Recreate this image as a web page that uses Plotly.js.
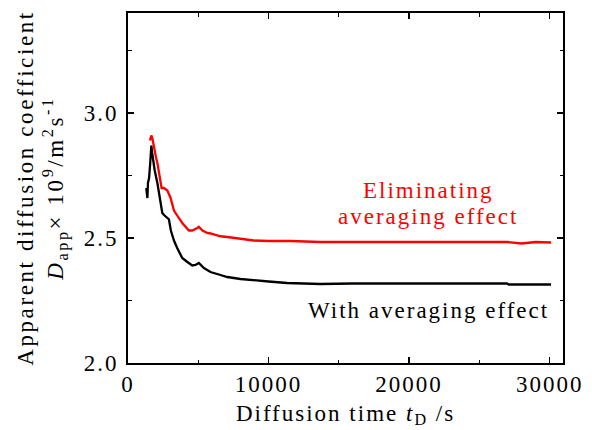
<!DOCTYPE html>
<html>
<head>
<meta charset="utf-8">
<script src="https://cdn.plot.ly/plotly-3.0.1.min.js"></script>
<style>
html,body{margin:0;padding:0;background:#fff}
#chart{width:592px;height:430px}
#chart svg text{letter-spacing:2px}
#chart svg .g-ytitle text{letter-spacing:2.6px}
</style>
</head>
<body>
<div id="chart"></div>
<script>
// Black: with averaging effect
const timeWith = [1300, 1380, 1420, 1500, 1580, 1660, 1720, 1800, 1900, 2090, 2250, 2440, 2600, 2800, 2910, 3050, 3270, 3500, 3860, 4200, 4570, 4800, 5040, 5400, 5870, 6580, 7060, 8000, 8950, 10000, 11320, 12500, 13690, 16000, 20000, 24000, 26950, 27100, 30100];
const dWith    = [2.70, 2.66, 2.72, 2.74, 2.80, 2.87, 2.84, 2.80, 2.77, 2.72, 2.66, 2.60, 2.59, 2.58, 2.575, 2.53, 2.49, 2.46, 2.42, 2.405, 2.39, 2.392, 2.40, 2.38, 2.364, 2.352, 2.344, 2.336, 2.330, 2.326, 2.320, 2.318, 2.316, 2.318, 2.318, 2.318, 2.318, 2.314, 2.314];
// Red: eliminating averaging effect
const timeElim = [1560, 1620, 1660, 1730, 1850, 2000, 2090, 2250, 2390, 2560, 2800, 3030, 3270, 3500, 3860, 4330, 4570, 4930, 5040, 5300, 5640, 5870, 6580, 7060, 8000, 8950, 10000, 11550, 13690, 16000, 20000, 24000, 27000, 28000, 29000, 30100];
const dElim    = [2.89, 2.90, 2.91, 2.90, 2.86, 2.82, 2.80, 2.75, 2.70, 2.70, 2.69, 2.66, 2.61, 2.59, 2.56, 2.53, 2.53, 2.54, 2.545, 2.53, 2.52, 2.518, 2.507, 2.504, 2.496, 2.49, 2.488, 2.488, 2.484, 2.484, 2.484, 2.484, 2.484, 2.478, 2.484, 2.482];

const xTicks = [0, 10000, 20000, 30000];
const yTicks = [2.0, 2.5, 3.0];
const labelElim1 = "Eliminating";
const labelElim2 = "averaging effect";
const labelWith = "With averaging effect";

const serif = "Liberation Serif, Times New Roman, serif";
const FS = 23;
const traces = [
  {x: timeWith, y: dWith, type: "scatter", mode: "lines", line: {color: "#000000", width: 2.3}, hoverinfo: "skip"},
  {x: timeElim, y: dElim, type: "scatter", mode: "lines", line: {color: "#ff0000", width: 2.3}, hoverinfo: "skip"}
];
const axisCommon = {
  showgrid: false, zeroline: false, showline: true, mirror: "allticks",
  linecolor: "#000", linewidth: 1.8, ticks: "inside", ticklen: 6, tickwidth: 1.5, tickcolor: "#000",
  tickfont: {family: serif, size: FS, color: "#000"},
  minor: {ticks: "inside", ticklen: 3.5, tickwidth: 1.3, tickcolor: "#000"}
};
const layout = {
  width: 592, height: 430,
  margin: {l: 128, r: 29, t: 13, b: 67},
  paper_bgcolor: "#fff", plot_bgcolor: "#fff",
  showlegend: false,
  xaxis: Object.assign({}, axisCommon, {
    range: [0, 30950], tickvals: xTicks, ticktext: xTicks.map(String),
    minor: Object.assign({}, axisCommon.minor, {dtick: 5000, tick0: 0}),
    ticklabelstandoff: 0,
    title: {text: "Diffusion time <i>t</i><sub>D</sub> /s", font: {family: serif, size: FS, color: "#000"}, standoff: 8}
  }),
  yaxis: Object.assign({}, axisCommon, {
    range: [2.0, 3.4], tickvals: yTicks, ticktext: yTicks.map(v => v.toFixed(1)),
    minor: Object.assign({}, axisCommon.minor, {dtick: 0.25, tick0: 2.0}),
    ticklabelstandoff: 3,
    title: {text: "Apparent diffusion coefficient<br><i>D</i><sub>app</sub>× 10<sup>9</sup>/m<sup>2</sup>s<sup>-1</sup>", font: {family: serif, size: FS, color: "#000"}, standoff: 20}
  }),
  annotations: [
    {x: 21357, y: 2.691, xref: "x", yref: "y", text: labelElim1, showarrow: false, font: {family: serif, size: FS, color: "#ff0000"}, xanchor: "center", yanchor: "middle"},
    {x: 21357, y: 2.587, xref: "x", yref: "y", text: labelElim2, showarrow: false, font: {family: serif, size: FS, color: "#ff0000"}, xanchor: "center", yanchor: "middle"},
    {x: 21420, y: 2.211, xref: "x", yref: "y", text: labelWith, showarrow: false, font: {family: serif, size: FS, color: "#000"}, xanchor: "center", yanchor: "middle"}
  ]
};
Plotly.newPlot("chart", traces, layout, {staticPlot: true, displayModeBar: false});
</script>
</body>
</html>
